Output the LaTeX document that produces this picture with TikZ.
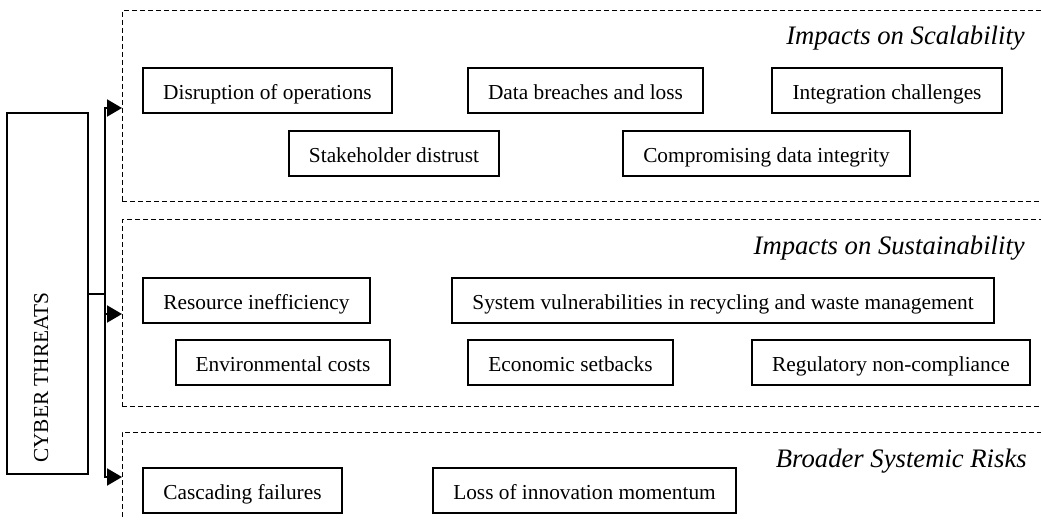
\documentclass[tikz,border=0pt]{standalone}
\usepackage{fontspec}
\setmainfont{Liberation Serif}
\usetikzlibrary{arrows.meta}
% one drawing unit = one pixel of a 1041 x 520 canvas
\newcommand{\itembox}[7][item]{%
  \node[#1, minimum width={(#5-#3)*0.75pt}, minimum height={(#6-#4)*0.75pt}]
    (#2) at ({(#3+#5)/2},{(#4+#6)/2}) {#7};}
\begin{document}
\begin{tikzpicture}[x=0.75pt,y=-0.75pt,
  item/.style={draw, line width=0.9pt, inner sep=0pt, outer sep=0pt,
    text height=16pt, text depth=2pt,
    font=\fontsize{16}{19}\selectfont},
  region/.style={draw, line width=0.75pt, dash pattern=on 3.75pt off 2.25pt,
    inner sep=0pt, outer sep=0pt},
  heading/.style={font=\fontsize{20}{24}\selectfont\itshape, anchor=base east,
    inner sep=0pt},
  bus/.style={line width=1.5pt},
  feed/.style={line width=1.5pt, -{Triangle[length=11.25pt,width=12.75pt]}}]
\useasboundingbox (0,0) rectangle (1041,520);
\clip (0,0) rectangle (1041,520);

% dashed regions (open to the right and, for the last one, downwards)
\itembox[region]{scal}{122}{11}{1070}{202}{}
\itembox[region]{sust}{122}{220}{1070}{406}{}
\itembox[region]{risk}{122}{432}{1070}{560}{}

% region headings
\node[heading] (scalHead) at (1025,45) {Impacts on Scalability};
\node[heading] (sustHead) at (1025,254) {Impacts on Sustainability};
\node[heading] (riskHead) at (1027,467) {Broader Systemic Risks};

% source box
\itembox{cyber}{7}{113}{88}{474}{}
\node[rotate=90, anchor=base west, inner sep=0pt,
  font=\fontsize{16}{19}\selectfont] (cyberText) at (48,463) {CYBER THREATS};

% scalability impacts
\itembox{disr}{143}{68}{392}{113}{Disruption of operations}
\itembox{breach}{468}{68}{703}{113}{Data breaches and loss}
\itembox{integ}{772}{68}{1002}{113}{Integration challenges}
\itembox{distrust}{289}{131}{499}{176}{Stakeholder distrust}
\itembox{integrity}{623}{131}{910}{176}{Compromising data integrity}

% sustainability impacts
\itembox{resource}{143}{278}{370}{323}{Resource inefficiency}
\itembox{recycle}{452}{278}{994}{323}{System vulnerabilities in recycling and waste management}
\itembox{env}{176}{340}{390}{385}{Environmental costs}
\itembox{econ}{468}{340}{673}{385}{Economic setbacks}
\itembox{regul}{752}{340}{1030}{385}{Regulatory non-compliance}

% systemic risks
\itembox{cascade}{143}{468}{342}{513}{Cascading failures}
\itembox{innov}{433}{468}{736}{513}{Loss of innovation momentum}

% distribution bus
\coordinate (busTop) at (105,108);
\coordinate (busMid) at (105,314);
\coordinate (busBot) at (105,477);
\draw[bus] (cyber.east) -- (cyber.east -| busTop);
\draw[bus] ([yshift=0.75pt]busTop) -- ([yshift=-0.75pt]busBot);
\draw[feed] (busTop) -- (busTop -| scal.west);
\draw[feed] (busMid) -- (busMid -| sust.west);
\draw[feed] (busBot) -- (busBot -| risk.west);
\end{tikzpicture}
\end{document}
